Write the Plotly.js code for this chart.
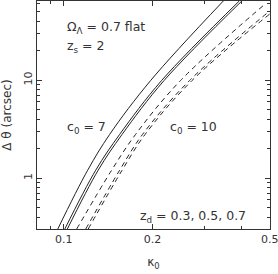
<!DOCTYPE html>
<html><head><meta charset="utf-8">
<script src="https://cdn.plot.ly/plotly-3.0.1.min.js"></script>
<style>html,body{margin:0;padding:0;background:#fff;}#c{width:278px;height:274px;}</style>
</head><body><div id="c"></div>
<script>
// c0 = 7 (solid), z_d = 0.3, 0.5, 0.7
const kappaSolidA = [0.0954, 0.1205, 0.1431, 0.1969, 0.3476];
const thetaSolidA = [0.303, 1.206, 2.797, 9.88, 64.1];
const kappaSolidB = [0.1008, 0.1283, 0.1547, 0.2145, 0.3937];
const thetaSolidB = [0.303, 1.206, 2.797, 9.88, 64.1];
const kappaSolidC = [0.1028, 0.1308, 0.1577, 0.2187, 0.4015];
const thetaSolidC = [0.303, 1.206, 2.797, 9.88, 64.1];
// c0 = 10 (dashed)
const kappaDashD = [0.1106, 0.1453, 0.1752, 0.2487, 0.4821];
const thetaDashD = [0.303, 1.206, 2.797, 9.88, 59.8];
const kappaDashE = [0.1187, 0.1547, 0.1850, 0.2668, 0.5];
const thetaDashE = [0.303, 1.206, 2.797, 9.88, 50.8];
const kappaDashF = [0.1210, 0.1577, 0.1887, 0.2720, 0.5];
const thetaDashF = [0.303, 1.206, 2.797, 9.88, 47.3];

const xTicks = [0.1, 0.2, 0.5];
const xTickText = ['0.1', '0.2', '0.5'];
const xMinor = [0.09, 0.3, 0.4];
const yTicks = [1, 10];
const yTickText = ['1', '10'];
const yMinor = [0.4,0.5,0.6,0.7,0.8,0.9,2,3,4,5,6,7,8,9,20,30,40,50,60];

const FONT = 'DejaVu Sans, sans-serif';
const TXT = '#333';
function tr(x, y, dash){
  return {x:x, y:y, type:'scatter', mode:'lines', line:{color:'#222', width:1, dash:dash, shape:'spline'}, hoverinfo:'skip', showlegend:false};
}
const data = [
  tr(kappaSolidA, thetaSolidA, 'solid'),
  tr(kappaSolidB, thetaSolidB, 'solid'),
  tr(kappaSolidC, thetaSolidC, 'solid'),
  tr(kappaDashD, thetaDashD, '5px,4px'),
  tr(kappaDashE, thetaDashE, '5px,4px'),
  tr(kappaDashF, thetaDashF, '5px,4px')
];
const ann = (text, x, y) => ({text:text, x:x, y:y, xref:'paper', yref:'paper', xanchor:'left', yanchor:'middle', showarrow:false, font:{family:FONT, size:12.5, color:TXT}});
const layout = {
  width:278, height:274,
  margin:{l:37, r:8, t:1, b:45},
  paper_bgcolor:'#fff', plot_bgcolor:'#fff',
  font:{family:FONT, size:11, color:TXT},
  showlegend:false,
  xaxis:{type:'log', range:[Math.log10(0.0811), Math.log10(0.5)+0.0005], tickmode:'array', tickvals:xTicks, ticktext:xTickText,
    ticks:'inside', ticklen:5, tickcolor:'#333', showline:true, linecolor:'#333', linewidth:1, mirror:'allticks',
    showgrid:false, zeroline:false, ticklabeloverflow:'allow',
    minor:{tickmode:'array', tickvals:xMinor, ticks:'inside', ticklen:3, tickcolor:'#333', showgrid:false},
    title:{text:'κ<sub>0</sub>', font:{family:FONT, size:12, color:TXT}, standoff:12}},
  yaxis:{type:'log', range:[Math.log10(0.303), Math.log10(64.1)], tickmode:'array', tickvals:yTicks, ticktext:yTickText, tickangle:-90,
    ticks:'inside', ticklen:5, tickcolor:'#333', showline:true, linecolor:'#333', linewidth:1, mirror:'allticks',
    showgrid:false, zeroline:false,
    minor:{tickmode:'array', tickvals:yMinor, ticks:'inside', ticklen:3, tickcolor:'#333', showgrid:false},
    title:{text:'Δ θ (arcsec)', font:{family:FONT, size:12, color:TXT}, standoff:8}},
  annotations:[
    ann('Ω<sub>Λ</sub> = 0.7 flat', 0.12, 0.882),
    ann('z<sub>s</sub> = 2', 0.12, 0.80),
    ann('c<sub>0</sub> = 7', 0.12, 0.445),
    ann('c<sub>0</sub> = 10', 0.562, 0.447),
    ann('z<sub>d</sub> = 0.3, 0.5, 0.7', 0.433, 0.055)
  ]
};
Plotly.newPlot('c', data, layout, {staticPlot:true, displayModeBar:false});
</script></body></html>
